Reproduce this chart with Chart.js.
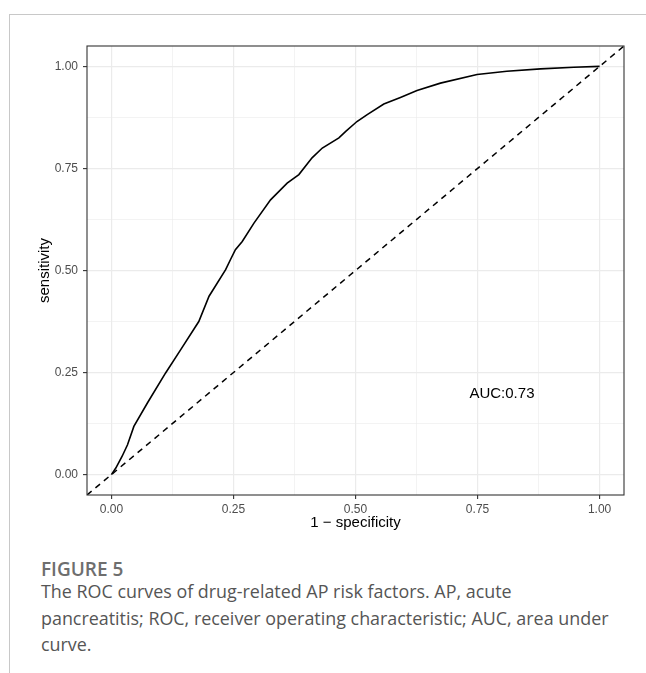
<!DOCTYPE html>
<html><head><meta charset="utf-8">
<script src="https://cdn.jsdelivr.net/npm/chart.js@4.4.0/dist/chart.umd.min.js"></script>
<style>
html,body{margin:0;padding:0;background:#fff;width:646px;height:673px;overflow:hidden;position:relative;font-family:"Open Sans",sans-serif;}
#frameTop{position:absolute;left:9px;top:14px;width:637px;height:0;border-top:1px solid #c8c8c8;}
#frameLeft{position:absolute;left:9px;top:14px;width:0;height:659px;border-left:1px solid #c8c8c8;}
#chartBox{position:absolute;left:0;top:0;width:646px;height:540px;}
#figLabel{position:absolute;left:41px;top:560px;font-size:19px;line-height:19px;font-weight:600;color:#6e6e6e;white-space:nowrap;}
#caption{position:absolute;left:41px;top:578px;font-size:17.9px;line-height:26.5px;color:#555;white-space:nowrap;}
</style></head>
<body>
<div id="frameTop"></div><div id="frameLeft"></div>
<div id="chartBox"><canvas id="c" width="646" height="540" style="width:646px;height:540px"></canvas></div>
<div id="figLabel">FIGURE 5</div>
<div id="caption">The ROC curves of drug-related AP risk factors. AP, acute<br>pancreatitis; ROC, receiver operating characteristic; AUC, area under<br>curve.</div>
<script>
// ROC curve
const fpr = [0, 0.009, 0.022, 0.033, 0.046, 0.074, 0.111, 0.142, 0.179, 0.200, 0.234, 0.244, 0.254, 0.268, 0.292, 0.326, 0.360, 0.384, 0.411, 0.432, 0.466, 0.480, 0.503, 0.524, 0.558, 0.592, 0.626, 0.674, 0.749, 0.810, 0.879, 0.947, 1.0];
const tpr = [0, 0.016, 0.045, 0.073, 0.118, 0.176, 0.249, 0.306, 0.375, 0.437, 0.502, 0.527, 0.551, 0.571, 0.616, 0.673, 0.714, 0.735, 0.776, 0.800, 0.825, 0.841, 0.865, 0.882, 0.908, 0.924, 0.941, 0.959, 0.980, 0.988, 0.994, 0.998, 1.0];
// reference diagonal
const diagX = [-0.05, 1.05];
const diagY = [-0.05, 1.05];
const majorTicks = [0, 0.25, 0.5, 0.75, 1];
const minorTicks = [0.125, 0.375, 0.625, 0.875];
const tickLabels = ['0.00', '0.25', '0.50', '0.75', '1.00'];
const xTitle = '1 \u2212 specificity';
const yTitle = 'sensitivity';
const aucLabel = 'AUC:0.73';
const aucPos = [0.8, 0.2];

const FONT = '"Liberation Sans", Arial, sans-serif';
const allTicks = majorTicks.concat(minorTicks).sort((a, b) => a - b);
const isMajor = v => majorTicks.some(m => Math.abs(m - v) < 1e-9);

function axis(isX) {
  return {
    type: 'linear', min: -0.05, max: 1.05,
    afterBuildTicks: s => { s.ticks = allTicks.map(v => ({ value: v })); },
    afterFit: s => { if (isX) s.height = 45; else s.width = 87; },
    ticks: {
      autoSkip: false, maxRotation: 0, minRotation: 0,
      padding: isX ? 3 : 5, color: '#4D4D4D',
      font: { family: FONT, size: 12 },
      callback: v => { const i = majorTicks.findIndex(m => Math.abs(m - v) < 1e-9); return i >= 0 ? tickLabels[i] : ''; }
    },
    grid: {
      color: '#EBEBEB',
      lineWidth: ctx => (ctx.tick && isMajor(ctx.tick.value)) ? 1.2 : 0.6,
      drawTicks: true, tickLength: 4,
      tickColor: ctx => (ctx.tick && isMajor(ctx.tick.value)) ? '#333333' : 'rgba(0,0,0,0)',
      tickWidth: 1.1
    },
    border: { display: false }
  };
}

const deco = {
  id: 'deco',
  afterDatasetsDraw(chart) {
    const { ctx, chartArea: a, scales } = chart;
    ctx.save();
    ctx.strokeStyle = '#333333'; ctx.lineWidth = 1.1;
    ctx.strokeRect(a.left, a.top, a.right - a.left, a.bottom - a.top);
    ctx.fillStyle = '#000'; ctx.textAlign = 'center'; ctx.textBaseline = 'middle';
    ctx.font = '15px ' + FONT;
    ctx.fillText(aucLabel, scales.x.getPixelForValue(aucPos[0]), scales.y.getPixelForValue(aucPos[1]) + 1);
    ctx.fillText(xTitle, (a.left + a.right) / 2, 523);
    ctx.translate(45, (a.top + a.bottom) / 2);
    ctx.rotate(-Math.PI / 2);
    ctx.fillText(yTitle, 0, 0);
    ctx.restore();
  }
};

new Chart(document.getElementById('c'), {
  type: 'scatter',
  data: {
    datasets: [
      { data: fpr.map((x, i) => ({ x, y: tpr[i] })), showLine: true, borderColor: '#000', borderWidth: 1.6, pointRadius: 0, tension: 0, fill: false },
      { data: diagX.map((x, i) => ({ x, y: diagY[i] })), showLine: true, borderColor: '#000', borderWidth: 1.5, borderDash: [6, 5], pointRadius: 0, fill: false }
    ]
  },
  options: {
    responsive: false, animation: false, devicePixelRatio: 1,
    layout: { padding: { top: 46, right: 22, left: 0, bottom: 0 } },
    plugins: { legend: { display: false }, tooltip: { enabled: false } },
    scales: { x: axis(true), y: axis(false) }
  },
  plugins: [deco]
});
</script>
</body></html>
